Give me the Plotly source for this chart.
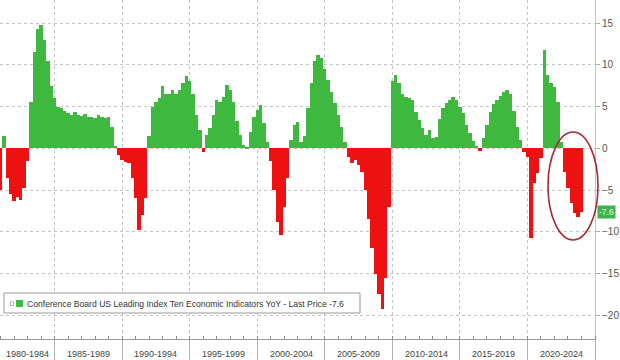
import plotly.graph_objects as go

# Quarterly readings of the YoY change (%), per 5-year period
period_labels = ["1980-1984", "1985-1989", "1990-1994", "1995-1999",
                 "2000-2004", "2005-2009", "2010-2014", "2015-2019", "2020-2024"]
period_starts = [1981.0, 1985, 1990, 1995, 2000, 2005, 2010, 2015, 2020]

v1980 = [-5.0, 1.5, -3.5, -5.5, -6.3, -5.8, -6.2, -4.8, -1.5, 5.5, 11.5, 14.3,
         14.8, 13.0, 10.5, 7.5]
v1985 = [6.0, 5.0, 4.8, 4.5, 4.2, 4.0, 4.3, 4.0, 3.9, 4.1, 3.8, 3.7, 3.6, 4.0,
         3.8, 3.6, 3.8, 2.5, 0.3, -0.8]
v1990 = [-1.4, -1.6, -1.8, -3.5, -6.0, -9.8, -8.0, -6.0, 1.5, 5.0, 5.5, 6.0,
         7.5, 6.5, 6.5, 7.0, 6.5, 7.0, 7.8, 8.7]
v1995 = [8.0, 6.5, 4.0, 2.2, -0.5, 1.6, 2.4, 4.0, 5.8, 5.6, 6.2, 7.6, 7.0, 5.5,
         3.3, 1.6, 0.4, 0.1, 2.0, 3.8]
v2000 = [4.6, 5.2, 3.0, 0.8, -1.5, -5.0, -8.8, -10.4, -7.0, -3.5, 1.0, 2.8,
         3.2, 0.8, 1.5, 4.8, 7.8, 10.5, 11.2, 10.8]
v2005 = [9.5, 8.2, 6.8, 5.4, 4.0, 2.6, 0.8, -1.0, -1.8, -1.4, -2.0, -2.8, -5.0,
         -8.5, -12.0, -15.0, -17.5, -19.2, -15.5, -7.0]
v2010 = [8.0, 8.8, 7.8, 6.5, 6.2, 6.0, 5.8, 4.4, 3.4, 2.4, 1.6, 2.2, 1.2, 1.4,
         3.5, 4.8, 5.4, 5.8, 6.2, 5.8]
v2015 = [5.0, 4.2, 2.8, 1.8, 0.9, 0.3, -0.3, 1.2, 2.8, 4.4, 5.3, 5.8, 6.3, 6.8,
         7.0, 6.5, 4.5, 2.6, 1.0, -0.4]
v2020 = [-1.0, -10.8, -4.2, -3.0, -1.2, 11.8, 8.8, 7.8, 7.4, 5.5, 0.8, -2.8,
         -4.8, -6.5, -7.8, -8.2, -7.6]

series = [v1980, v1985, v1990, v1995, v2000, v2005, v2010, v2015, v2020]

y_ticks = [15, 10, 5, 0, -5, -10, -15, -20]
last_price = -7.6
legend_text = "Conference Board US Leading Index Ten Economic Indicators YoY - Last Price -7.6"

GREEN = "#3fb83f"
RED = "#ee1111"

xs, ys = [], []
for start, vals in zip(period_starts, series):
    for i, v in enumerate(vals):
        xs.append(start + i * 0.25)
        ys.append(v)
colors = [GREEN if v >= 0 else RED for v in ys]

X0, X1 = 1980.96, 2025.0
Y0, Y1 = -22.84, 17.76
W, H = 620, 360
ML, MR, MT, MB = 0, 25, 0, 21
PW, PH = W - ML - MR, H - MT - MB

def px(x):
    return x / PW

def py(y):
    return 1 - y / PH

fig = go.Figure()
fig.add_trace(go.Bar(x=xs, y=ys, width=0.25, marker=dict(color=colors, line=dict(width=0)),
                     showlegend=False, hoverinfo="skip"))

FONT = "Liberation Sans, Arial, sans-serif"

fig.update_layout(
    width=W, height=H,
    margin=dict(l=ML, r=MR, t=MT, b=MB),
    plot_bgcolor="white", paper_bgcolor="white",
    bargap=0,
    font=dict(family=FONT, size=9, color="#555"),
    xaxis=dict(
        range=[X0, X1],
        tickvals=list(range(1985, 2026, 5)),
        showticklabels=False,
        showgrid=True, gridcolor="#c4c4c4", griddash="dot", gridwidth=1,
        ticks="outside", ticklen=21, tickcolor="#b0b0b0", tickwidth=1,
        minor=dict(dtick=1, tick0=1980, ticks="inside", ticklen=3, tickcolor="#888", showgrid=False),
        showline=True, linecolor="#999", linewidth=1,
        zeroline=False, fixedrange=True,
    ),
    yaxis=dict(
        range=[Y0, Y1], side="right",
        tickvals=y_ticks,
        showgrid=True, gridcolor="#c4c4c4", griddash="dot", gridwidth=1,
        zeroline=False,
        ticks="outside", ticklen=4, tickcolor="#8fbf8f",
        showline=True, linecolor="#a9d4a9", linewidth=1,
        tickfont=dict(size=10, color="#555"),
    ),
)

# period labels centred in the visible portion of each 5-year block
for lab, start in zip(period_labels, period_starts):
    lo = max(int(start) if start != 1981.0 else 1980, X0)
    hi = min(lo + 5 if start != 1981.0 else 1985, X1)
    mid = (lo + hi) / 2
    fig.add_annotation(x=mid, xref="x", y=0, yref="paper", yshift=-15, text=lab,
                       showarrow=False, font=dict(size=9, color="#444"), yanchor="middle")

# legend box
fig.add_shape(type="rect", xref="paper", yref="paper", x0=px(4), x1=px(360), y0=py(313), y1=py(293),
              line=dict(color="#9a9a9a", width=1), fillcolor="white", layer="above")
fig.add_shape(type="rect", xref="paper", yref="paper", x0=px(10), x1=px(13.5), y0=py(305.5), y1=py(302),
              line=dict(color="#aaa", width=1), fillcolor="white", layer="above")
fig.add_shape(type="rect", xref="paper", yref="paper", x0=px(16), x1=px(23), y0=py(307), y1=py(300),
              line=dict(width=0), fillcolor=GREEN, layer="above")
fig.add_annotation(x=px(25), xref="paper", y=py(303.5), yref="paper", text=legend_text,
                   showarrow=False, xanchor="left", yanchor="middle",
                   font=dict(size=8.6, color="#333"))

# last price tag
fig.add_annotation(x=1.004, xref="paper", y=last_price, yref="y", text="-7.6",
                   showarrow=False, xanchor="left", yanchor="middle",
                   bgcolor="#3cb34a", font=dict(size=8.5, color="#e8ffe8"), borderpad=1)

# highlight ellipse
fig.add_shape(type="circle", xref="paper", yref="paper", x0=px(548), x1=px(598),
              y0=py(240), y1=py(132), line=dict(color="#a52a35", width=1.6), layer="above")

fig.write_html("out.html", config={"displayModeBar": False},
               post_script="document.body.style.margin='0';document.body.style.overflow='hidden';")
